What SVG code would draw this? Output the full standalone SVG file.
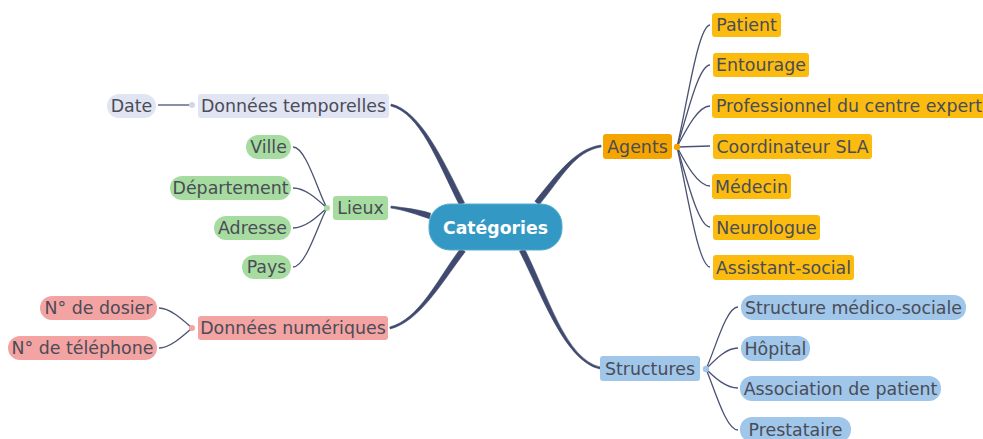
<svg xmlns="http://www.w3.org/2000/svg" width="983" height="439" viewBox="0 0 983 439">
<style>
text{font-family:"DejaVu Sans",Verdana,sans-serif;font-size:17.4px;fill:#4a4c57;text-anchor:middle}
.main{fill:#3f4a6e;stroke:#3f4a6e;stroke-width:0.6;stroke-linejoin:round}
.sub{fill:none;stroke:#4a5275;stroke-width:1.3}
.lav{fill:#e1e4f2}.grn{fill:#a7dca1}.red{fill:#f4a3a3}.org{fill:#f6a400}.yel{fill:#fbbc0f}.blu{fill:#a0c6ea}
.center text{fill:#ffffff;font-weight:bold;font-size:17.3px}
</style>
<rect width="983" height="439" fill="#ffffff"/>
<g id="connectors">
<path class="main" d="M390.77,105.97 C419.77,112.97 437.5,161.25 459.5,205.25 L464.5,202.75 C442.5,158.75 420.23,111.03 391.23,104.03 Z"/>
<path class="main" d="M390.78,207.97 C404.78,209.97 417.37,214.73 429.37,218.73 L430.63,213.27 C418.63,209.27 405.22,208.03 391.22,206.03 Z"/>
<path class="main" d="M390.26,328.97 C420.26,320.97 442.22,281.70 465.22,251.70 L460.78,248.30 C437.78,278.30 419.74,319.03 389.74,327.03 Z"/>
<path class="main" d="M600.85,145.01 C574.85,149.01 557.84,173.22 534.84,201.22 L539.16,204.78 C562.16,176.78 575.15,150.99 601.15,146.99 Z"/>
<path class="main" d="M600.22,367.03 C565.22,359.03 547.49,293.73 524.49,248.73 L519.51,251.27 C542.51,296.27 564.78,360.97 599.78,368.97 Z"/>
<path class="sub" d="M158,105 L190,105"/>
<path class="sub" d="M327,208 C318,192 306,147 293,147"/>
<path class="sub" d="M327,208 C318,200 306,188 293,188"/>
<path class="sub" d="M327,208 C318,216 306,228 293,228"/>
<path class="sub" d="M327,208 C318,224 306,267 293,267"/>
<path class="sub" d="M192,328 C183,320 170,308 159,308"/>
<path class="sub" d="M192,328 C183,336 170,348 159,348"/>
<path class="sub" d="M677,147 C686,110 698,25 710,25"/>
<path class="sub" d="M677,147 C686,120 698,65 710,65"/>
<path class="sub" d="M677,147 C686,130 698,106 710,106"/>
<path class="sub" d="M677,147 L710,146"/>
<path class="sub" d="M677,147 C686,164 698,186 710,186"/>
<path class="sub" d="M677,147 C686,175 698,227 710,227"/>
<path class="sub" d="M677,147 C686,185 698,267 710,267"/>
<path class="sub" d="M706,369 C715,350 726,307 738,307"/>
<path class="sub" d="M706,369 C715,360 726,348 738,348"/>
<path class="sub" d="M706,369 C715,378 726,388 738,388"/>
<path class="sub" d="M706,369 C715,390 726,430 738,430"/>
<circle cx="192" cy="105" r="3" fill="#d3d7ea"/>
<circle cx="327" cy="208" r="3" fill="#a7dca1"/>
<circle cx="192" cy="328" r="3" fill="#f4a3a3"/>
<circle cx="677" cy="147" r="3.2" fill="#f6a400"/>
<circle cx="706" cy="369" r="3.2" fill="#a0c6ea"/>
</g>
<g id="n-center" class="center"><rect x="429" y="204" width="133" height="46" rx="21" fill="#3399c4" stroke="#55aed2" stroke-width="1"/><text x="495.5" y="233.5">Catégories</text></g>
<g id="n-temp"><rect class="lav" x="198" y="94" width="191" height="24" rx="3"/><text x="293.5" y="112">Données temporelles</text></g>
<g id="n-date"><rect class="lav" x="107" y="94" width="49" height="24" rx="12"/><text x="131.5" y="112">Date</text></g>
<g id="n-lieux"><rect class="grn" x="333" y="196" width="55" height="24" rx="3"/><text x="360.5" y="214">Lieux</text></g>
<g id="n-ville"><rect class="grn" x="246" y="135" width="45" height="24" rx="12"/><text x="268.5" y="153">Ville</text></g>
<g id="n-dep"><rect class="grn" x="170" y="176" width="121" height="24" rx="12"/><text x="230.5" y="194">Département</text></g>
<g id="n-adr"><rect class="grn" x="214" y="216" width="77" height="24" rx="12"/><text x="252.5" y="234">Adresse</text></g>
<g id="n-pays"><rect class="grn" x="242" y="255" width="49" height="24" rx="12"/><text x="266.5" y="273">Pays</text></g>
<g id="n-num"><rect class="red" x="198" y="316" width="190" height="24" rx="3"/><text x="293" y="334">Données numériques</text></g>
<g id="n-dos"><rect class="red" x="40" y="296" width="117" height="24" rx="12"/><text x="98.5" y="314">N° de dosier</text></g>
<g id="n-tel"><rect class="red" x="8" y="336" width="149" height="24" rx="12"/><text x="82.5" y="354">N° de téléphone</text></g>
<g id="n-agents"><rect class="org" x="603" y="134" width="69" height="25" rx="3"/><text x="637.5" y="152.5">Agents</text></g>
<g id="n-patient"><rect class="yel" x="712" y="13" width="69" height="24" rx="3"/><text x="746.5" y="31">Patient</text></g>
<g id="n-entourage"><rect class="yel" x="713" y="53" width="96" height="24" rx="3"/><text x="761" y="71">Entourage</text></g>
<g id="n-pro"><rect class="yel" x="712" y="94" width="275" height="24" rx="3"/><text x="849" y="112">Professionnel du centre expert</text></g>
<g id="n-coord"><rect class="yel" x="713" y="134" width="159" height="25" rx="3"/><text x="792.5" y="152.5">Coordinateur SLA</text></g>
<g id="n-medecin"><rect class="yel" x="712" y="174" width="79" height="25" rx="3"/><text x="751.5" y="192.5">Médecin</text></g>
<g id="n-neuro"><rect class="yel" x="713" y="215" width="107" height="25" rx="3"/><text x="766.5" y="233.5">Neurologue</text></g>
<g id="n-assist"><rect class="yel" x="713" y="255" width="141" height="25" rx="3"/><text x="783.5" y="273.5">Assistant-social</text></g>
<g id="n-struct"><rect class="blu" x="600" y="356" width="100" height="25" rx="3"/><text x="650" y="374.5">Structures</text></g>
<g id="n-medsoc"><rect class="blu" x="741" y="295" width="225" height="25" rx="12"/><text x="853.5" y="313.5">Structure médico-sociale</text></g>
<g id="n-hopital"><rect class="blu" x="741" y="336" width="69" height="25" rx="12"/><text x="775.5" y="354.5">Hôpital</text></g>
<g id="n-assoc"><rect class="blu" x="740" y="376" width="201" height="25" rx="12"/><text x="840.5" y="394.5">Association de patient</text></g>
<g id="n-presta"><rect class="blu" x="740" y="417" width="111" height="25" rx="12"/><text x="795.5" y="435.5">Prestataire</text></g>
</svg>
